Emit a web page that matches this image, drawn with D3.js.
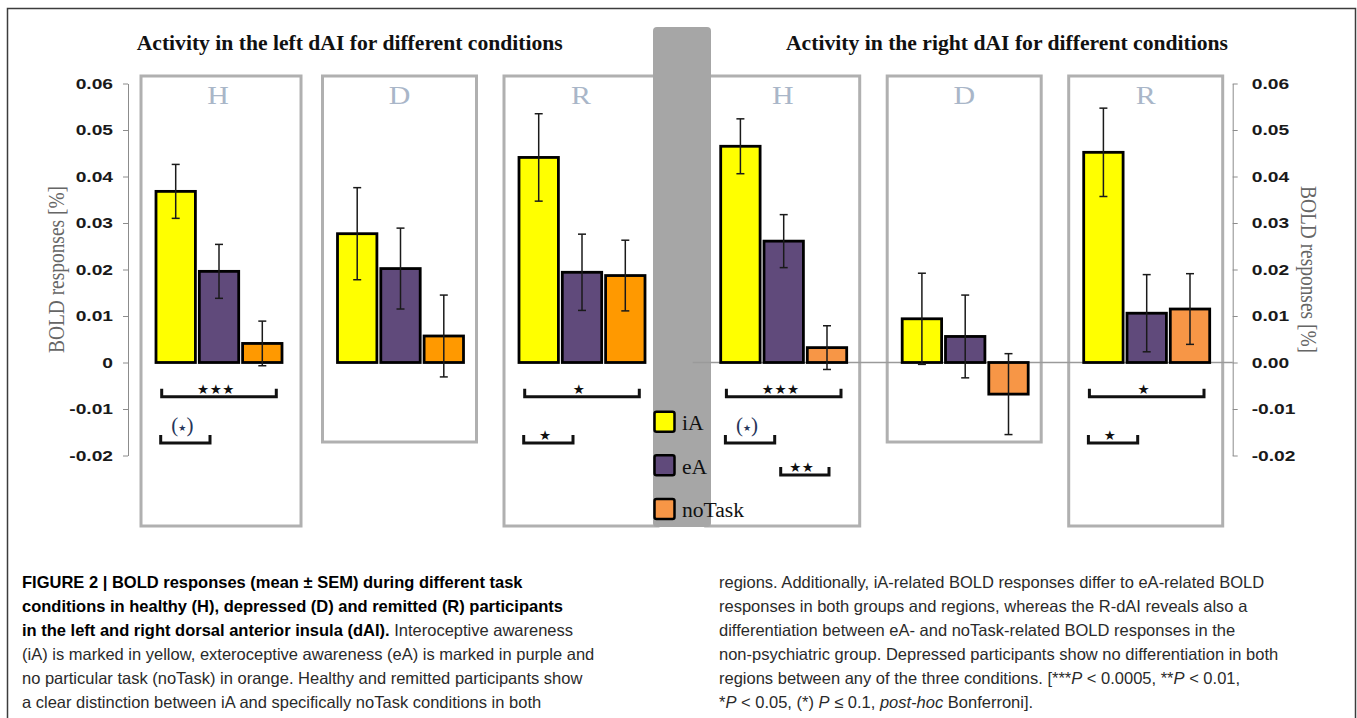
<!DOCTYPE html>
<html><head><meta charset="utf-8">
<script src="https://cdn.jsdelivr.net/npm/d3@7"></script>
<style>body{margin:0;background:#fff}</style>
</head><body>
<svg id="chart" width="1357" height="718"></svg>
<script>
// ---------------- data ----------------
const groups = ["H", "D", "R"];
const seriesNames = ["iA", "eA", "noTask"];
const tickValues = [-0.02, -0.01, 0, 0.01, 0.02, 0.03, 0.04, 0.05, 0.06];
const leftTickLabels = ["-0.02", "-0.01", "0", "0.01", "0.02", "0.03", "0.04", "0.05", "0.06"];
const rightTickLabels = ["-0.02", "-0.01", "0.00", "0.01", "0.02", "0.03", "0.04", "0.05", "0.06"];

// left dAI (means and SEM per group H, D, R)
const leftIA = [0.0368, 0.0277, 0.0441];
const leftEA = [0.0196, 0.0202, 0.0194];
const leftNoTask = [0.0041, 0.0057, 0.0187];
const leftIAsem = [0.0058, 0.0099, 0.0094];
const leftEAsem = [0.0058, 0.0087, 0.0082];
const leftNoTaskSem = [0.0048, 0.0088, 0.0076];
// right dAI
const rightIA = [0.0465, 0.0094, 0.0452];
const rightEA = [0.0261, 0.0056, 0.0106];
const rightNoTask = [0.0032, -0.0068, 0.0115];
const rightIAsem = [0.0059, 0.0098, 0.0095];
const rightEAsem = [0.0057, 0.0089, 0.0083];
const rightNoTaskSem = [0.0047, 0.0087, 0.0076];

// significance brackets: group, from, to, label, row
const leftBrackets = [
  ["H", "iA", "noTask", "***", 0],
  ["H", "iA", "eA", "(*)", 1],
  ["R", "iA", "noTask", "*", 0],
  ["R", "iA", "eA", "*", 1]
];
const rightBrackets = [
  ["H", "iA", "noTask", "***", 0],
  ["H", "iA", "eA", "(*)", 1],
  ["H", "eA", "noTask", "**", 2],
  ["R", "iA", "noTask", "*", 0],
  ["R", "iA", "eA", "*", 1]
];

const leftTitle = "Activity in the left dAI for different conditions";
const rightTitle = "Activity in the right dAI for different conditions";
const yTitle = "BOLD responses [%]";

const captionLeft = [
  [["FIGURE 2 | BOLD responses (mean \u00b1 SEM) during different task", "b"]],
  [["conditions in healthy (H), depressed (D) and remitted (R) participants", "b"]],
  [["in the left and right dorsal anterior insula (dAI).", "b"], [" Interoceptive awareness", "n"]],
  [["(iA) is marked in yellow, exteroceptive awareness (eA) is marked in purple and", "n"]],
  [["no particular task (noTask) in orange. Healthy and remitted participants show", "n"]],
  [["a clear distinction between iA and specifically noTask conditions in both", "n"]]
];
const captionRight = [
  [["regions. Additionally, iA-related BOLD responses differ to eA-related BOLD", "n"]],
  [["responses in both groups and regions, whereas the R-dAI reveals also a", "n"]],
  [["differentiation between eA- and noTask-related BOLD responses in the", "n"]],
  [["non-psychiatric group. Depressed participants show no differentiation in both", "n"]],
  [["regions between any of the three conditions. [***", "n"], ["P", "i"], [" < 0.0005, **", "n"], ["P", "i"], [" < 0.01,", "n"]],
  [["*", "n"], ["P", "i"], [" < 0.05, (*) ", "n"], ["P", "i"], [" \u2264 0.1, ", "n"], ["post-hoc", "i"], [" Bonferroni].", "n"]]
];

// ---------------- drawing ----------------
const W = 1357, H = 718;
const svg = d3.select("#chart");
svg.append("rect").attr("width", W).attr("height", H).attr("fill", "#fff");

const y = d3.scaleLinear().domain([-0.02, 0.06]).range([455.5, 83.5]);

function stretch(sel, k) {
  sel.each(function () {
    const w = this.getComputedTextLength();
    this.setAttribute("textLength", (w * k).toFixed(2));
    this.setAttribute("lengthAdjust", "spacingAndGlyphs");
  });
}

// outer frame
svg.append("path").attr("d", "M7.5,718V8.5H1355.5V718")
  .attr("fill", "none").attr("stroke", "#3c3c3c").attr("stroke-width", 1.5);

const charts = [
  { side: "left", title: leftTitle, titleX: 136.7, titleW: 426, range: [128.25, 672.75],
    means: [leftIA, leftEA, leftNoTask], sems: [leftIAsem, leftEAsem, leftNoTaskSem],
    colors: ["#ffff00", "#604a7b", "#ff9900"], brackets: leftBrackets, zero: false, ticks: leftTickLabels },
  { side: "right", title: rightTitle, titleX: 786, titleW: 442, range: [692.95, 1237.45],
    means: [rightIA, rightEA, rightNoTask], sems: [rightIAsem, rightEAsem, rightNoTaskSem],
    colors: ["#ffff00", "#604a7b", "#f79646"], brackets: rightBrackets, zero: true, ticks: rightTickLabels }
];

const xS = d3.scaleBand().domain(seriesNames).range([-63, 63]).paddingInner(0.09);
charts.forEach(c => {
  c.xG = d3.scaleBand().domain(groups).range(c.range);
  c.gc = g => c.xG(g) + c.xG.bandwidth() / 2;
  c.xc = (g, s) => c.gc(g) + xS(s) + xS.bandwidth() / 2;
});

// group boxes
charts.forEach(c => {
  groups.forEach(g => {
    const hasBr = c.brackets.some(b => b[0] === g);
    const top = 76, bottom = hasBr ? 526 : 442;
    const wide = (c.side === "left" && g === "H") ? 6 : 0;
    svg.append("rect")
      .attr("x", c.gc(g) - 78).attr("y", top)
      .attr("width", 154 + wide).attr("height", bottom - top)
      .attr("fill", "none").attr("stroke", "#b0b0b0").attr("stroke-width", 3);
  });
});

// gray separator band
svg.append("rect").attr("x", 653).attr("y", 27).attr("width", 58).attr("height", 500)
  .attr("rx", 4).attr("fill", "#a6a6a6");

charts.forEach(c => {
  // title
  svg.append("text").attr("x", c.titleX).attr("y", 49.5)
    .attr("font-family", "Liberation Serif").attr("font-weight", "bold").attr("font-size", 20)
    .attr("fill", "#111").attr("textLength", c.titleW).attr("lengthAdjust", "spacingAndGlyphs")
    .text(c.title);

  // group labels
  groups.forEach(g => {
    svg.append("text").attr("x", c.gc(g) - 1).attr("y", 103.5).attr("text-anchor", "middle")
      .attr("font-family", "Liberation Serif").attr("font-size", 26).attr("fill", "#a9b6c8")
      .text(g).call(stretch, 1.15);
  });

  // zero line
  if (c.zero) {
    svg.append("line").attr("x1", 692.7).attr("x2", 1232.7).attr("y1", y(0)).attr("y2", y(0))
      .attr("stroke", "#9a9a9a").attr("stroke-width", 1.3);
  }

  // bars
  const bw = xS.bandwidth();
  seriesNames.forEach((s, si) => {
    groups.forEach((g, gi) => {
      const v = c.means[si][gi];
      svg.append("rect")
        .attr("x", c.xc(g, s) - bw / 2).attr("width", bw)
        .attr("y", y(Math.max(0, v))).attr("height", Math.abs(y(v) - y(0)))
        .attr("fill", c.colors[si]).attr("stroke", "#000").attr("stroke-width", 2.8);
    });
  });
  // error bars
  seriesNames.forEach((s, si) => {
    groups.forEach((g, gi) => {
      const v = c.means[si][gi], e = c.sems[si][gi], xm = c.xc(g, s);
      const eg = svg.append("g").attr("stroke", "#1a1a1a").attr("stroke-width", 1.5);
      eg.append("line").attr("x1", xm).attr("x2", xm).attr("y1", y(v + e)).attr("y2", y(v - e));
      [v + e, v - e].forEach(t => eg.append("line").attr("x1", xm - 4).attr("x2", xm + 4)
        .attr("y1", y(t)).attr("y2", y(t)));
    });
  });

  // axis
  const axis = c.side === "left"
    ? d3.axisLeft(y).tickPadding(10)
    : d3.axisRight(y).tickPadding(14);
  axis.tickValues(tickValues).tickFormat((d, i) => c.ticks[i]).tickSize(5).tickSizeOuter(0);
  const ax = svg.append("g")
    .attr("transform", `translate(${c.side === "left" ? 128 : 1232.7},0)`)
    .call(axis);
  ax.select(".domain").attr("stroke", "#8c8c8c");
  ax.selectAll(".tick line").attr("stroke", "#8c8c8c");
  ax.selectAll(".tick text").attr("font-family", "Liberation Sans").attr("font-weight", "bold")
    .attr("font-size", 15).attr("fill", "#1a1a1a").call(stretch, 1.28);

  // y title
  const tx = c.side === "left" ? 63.5 : 1300.5;
  svg.append("g").attr("transform", `translate(${tx},269.5) scale(1.3,1) rotate(${c.side === "left" ? -90 : 90})`)
    .append("text").attr("text-anchor", "middle")
    .attr("font-family", "Liberation Serif").attr("font-size", 17).attr("fill", "#666")
    .attr("textLength", 167).attr("lengthAdjust", "spacingAndGlyphs").text(yTitle);

  // brackets
  const rowY = [396.7, 443, 475];
  c.brackets.forEach(([g, from, to, label, row]) => {
    const fi = seriesNames.indexOf(from), ti = seriesNames.indexOf(to);
    let x1, x2;
    if (ti - fi > 1) { x1 = c.xc(g, from) - 14; x2 = c.xc(g, to) + 14; }
    else if (fi === 0) { x1 = c.xc(g, from) - 15; x2 = c.xc(g, to) - 9; }
    else { x1 = c.xc(g, from) - 3; x2 = c.xc(g, to) + 2; }
    const ly = rowY[row];
    svg.append("path").attr("d", `M${x1},${ly - 8}V${ly}H${x2}V${ly - 8}`)
      .attr("fill", "none").attr("stroke", "#111").attr("stroke-width", 3);
    const mx = (x1 + x2) / 2;
    if (label === "(*)") {
      const t = svg.append("text").attr("x", mx - 3).attr("y", ly - 11).attr("text-anchor", "middle")
        .attr("font-family", "Liberation Serif").attr("font-size", 21).attr("fill", "#26355a");
      t.append("tspan").text("(");
      t.append("tspan").attr("font-family", "DejaVu Sans").attr("font-size", 9).attr("dy", -1).text("\u2605");
      t.append("tspan").attr("dy", 1).text(")");
    } else {
      svg.append("text").attr("x", mx - 3).attr("y", ly - 3).attr("text-anchor", "middle")
        .attr("font-family", "DejaVu Sans").attr("font-size", 13.5).attr("letter-spacing", 0.5)
        .attr("fill", "#111").text(label.replace(/\*/g, "\u2605"));
    }
  });
});

// legend
const legendColors = ["#ffff00", "#604a7b", "#f79646"];
seriesNames.forEach((s, i) => {
  const ty = 411.7 + i * 43.6;
  svg.append("rect").attr("x", 654.5).attr("y", ty).attr("width", 20).attr("height", 20).attr("rx", 2)
    .attr("fill", legendColors[i]).attr("stroke", "#000").attr("stroke-width", 2.5);
  svg.append("text").attr("x", 682).attr("y", ty + 18.5)
    .attr("font-family", "Liberation Serif").attr("font-size", 20).attr("fill", "#111")
    .text(s).call(stretch, 1.08);
});

// caption
function caption(lines, x0) {
  lines.forEach((segs, li) => {
    const t = svg.append("text").attr("x", x0).attr("y", 588 + li * 24)
      .attr("font-family", "Liberation Sans").attr("font-size", 16.5);
    segs.forEach(([txt, st]) => {
      t.append("tspan").text(txt)
        .attr("font-weight", st === "b" ? "bold" : "normal")
        .attr("font-style", st === "i" ? "italic" : "normal")
        .attr("fill", st === "b" ? "#000" : "#2a2a2a");
    });
  });
}
caption(captionLeft, 22);
caption(captionRight, 719);
</script>
</body></html>
